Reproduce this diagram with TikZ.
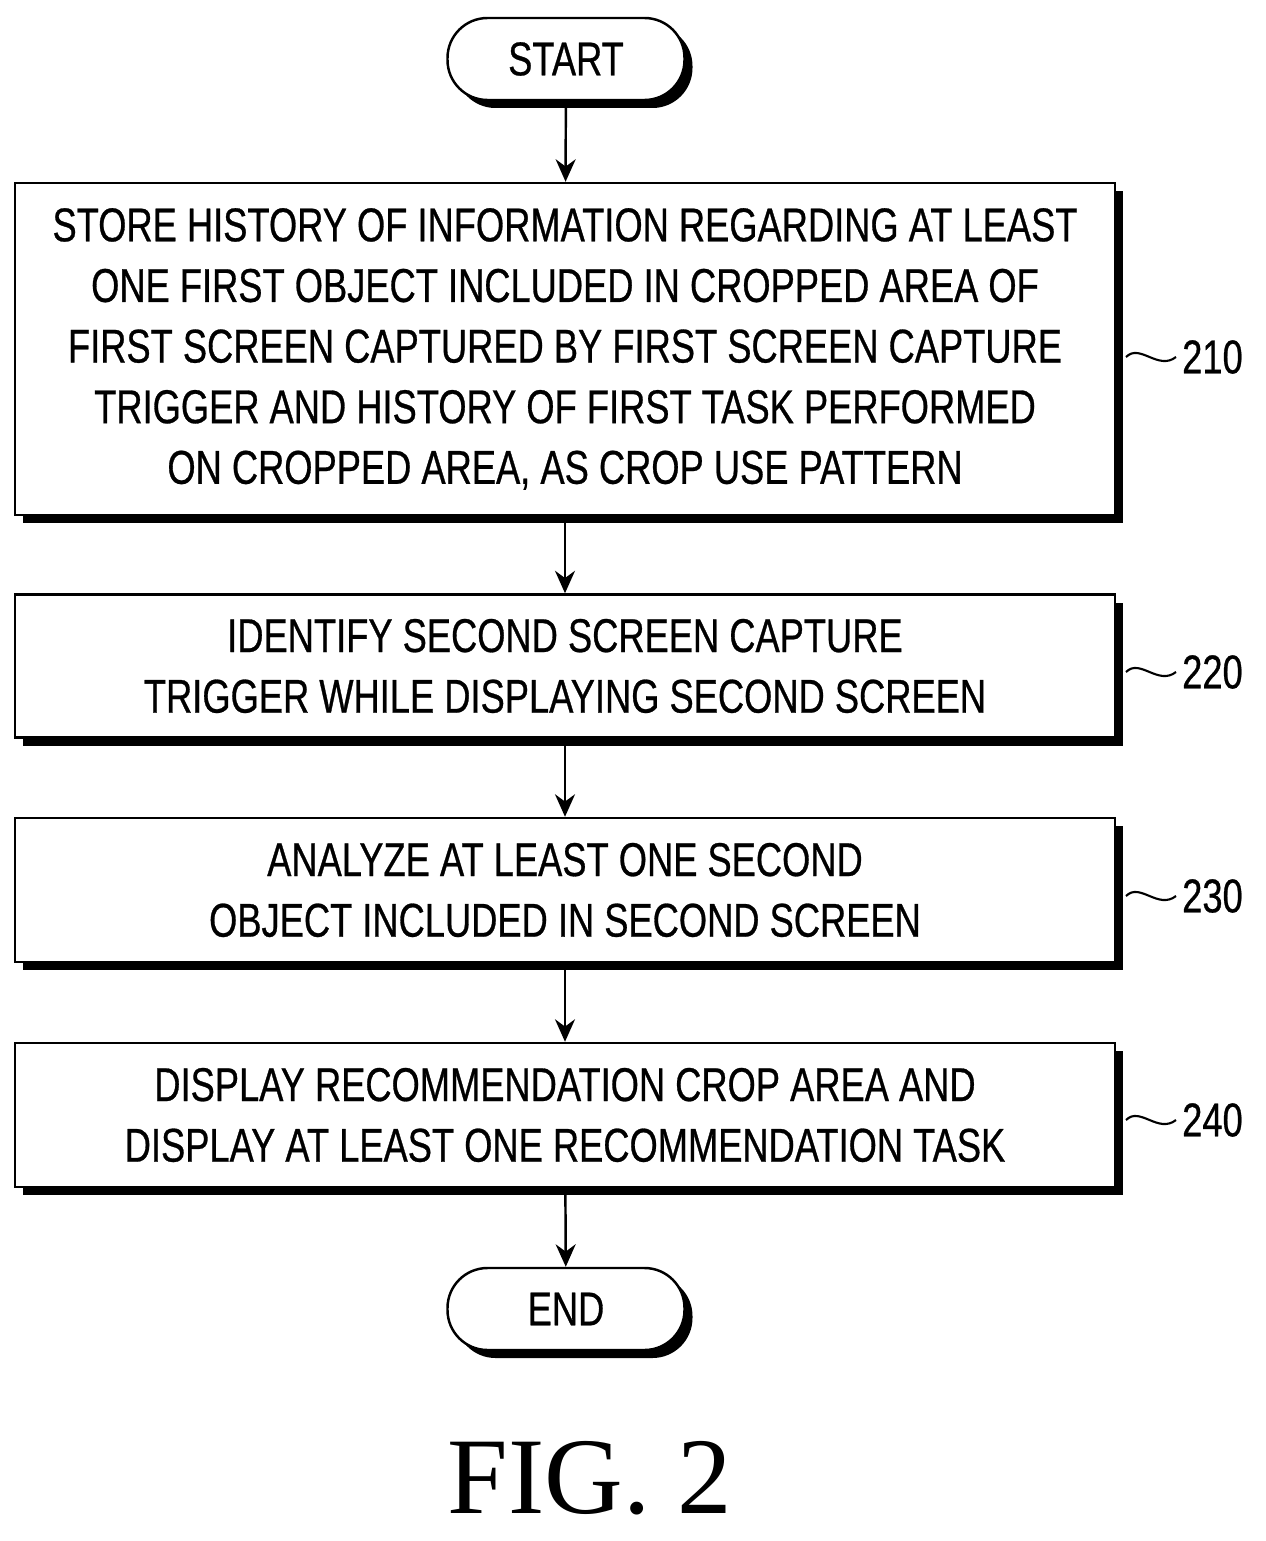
\documentclass[tikz,border=0pt]{standalone}
\usepackage{fontspec}
\setmainfont{Liberation Serif}
\setsansfont{Liberation Sans}[FakeStretch=0.765, FakeBold=0.6]
\usetikzlibrary{positioning, shadows, arrows.meta}
\tikzset{
    stepbox/.style={draw, line width=1.4pt, fill=white, minimum width=1100*0.02cm,
        align=center, font=\sffamily\fontsize{27}{34.5}\selectfont,
        drop shadow={shadow xshift=0.16cm, shadow yshift=-0.16cm, opacity=1, fill=black}},
    term/.style={stepbox, rounded corners=0.8cm, minimum width=237*0.02cm, minimum height=82*0.02cm},
    flow/.style={-{Stealth[length=0.45cm, width=0.4cm]}, line width=1.4pt},
    tag/.style={font=\sffamily\fontsize{27}{30}\selectfont}
}
\begin{document}
\begin{tikzpicture}[x=0.02cm, y=-0.02cm]
    \useasboundingbox (0,0) rectangle (1266,1541);
    % terminals
    \node[term] (start) at (566,59) {START};
    \node[term] (end) at (566,1309) {END};
    % steps
    \node[stepbox, minimum height=332*0.02cm] (s210) at (565,349) {STORE HISTORY OF INFORMATION REGARDING AT LEAST\\ONE FIRST OBJECT INCLUDED IN CROPPED AREA OF\\FIRST SCREEN CAPTURED BY FIRST SCREEN CAPTURE\\TRIGGER AND HISTORY OF FIRST TASK PERFORMED\\ON CROPPED AREA, AS CROP USE PATTERN};
    \node[stepbox, minimum height=143*0.02cm] (s220) at (565,666) {IDENTIFY SECOND SCREEN CAPTURE\\TRIGGER WHILE DISPLAYING SECOND SCREEN};
    \node[stepbox, minimum height=144*0.02cm] (s230) at (565,890) {ANALYZE AT LEAST ONE SECOND\\OBJECT INCLUDED IN SECOND SCREEN};
    \node[stepbox, minimum height=144*0.02cm] (s240) at (565,1115) {DISPLAY RECOMMENDATION CROP AREA AND\\DISPLAY AT LEAST ONE RECOMMENDATION TASK};
    % connectors
    \draw[flow] (start) -- (s210);
    \draw[flow] (s210) -- (s220);
    \draw[flow] (s220) -- (s230);
    \draw[flow] (s230) -- (s240);
    \draw[flow] (s240) -- (end);
    % reference numerals
    \foreach \n/\y in {210/357, 220/672, 230/896, 240/1120} {
        \node[tag, anchor=west] (l\n) at (1176,\y) {\n};
        \draw[line width=1.2pt] (1126,\y) .. controls (1140,\y-14) and (1158,\y+14) .. (l\n.west);
    }
    \node[font=\fontsize{62}{62}\selectfont] (fig) at (590,1478) {FIG. 2};
\end{tikzpicture}
\end{document}
